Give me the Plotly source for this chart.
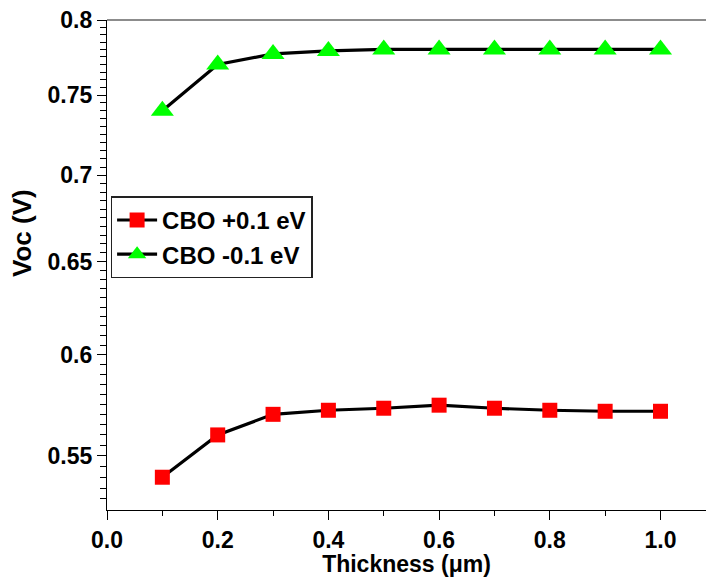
import numpy as np
import plotly.graph_objects as go

# Absorber thickness (um)
thickness = [0.1, 0.2, 0.3, 0.4, 0.5, 0.6, 0.7, 0.8, 0.9, 1.0]

# Open-circuit voltage (V) for the two conduction-band offsets
voc_cbo_pos = [0.540, 0.560, 0.570, 0.572, 0.573, 0.5745, 0.573, 0.572, 0.5715, 0.5715]
voc_cbo_neg = [0.740, 0.770, 0.777, 0.779, 0.780, 0.780, 0.780, 0.780, 0.780, 0.780]

series_names = ["CBO +0.1 eV", "CBO -0.1 eV"]

y_major = [0.55, 0.6, 0.65, 0.7, 0.75, 0.8]
y_major_text = ["0.55", "0.6", "0.65", "0.7", "0.75", "0.8"]
y_minor = [round(v, 3) for v in np.arange(0.53, 0.8, 0.005)
           if all(abs(v - m) > 1e-6 for m in y_major)]

FONT = "Liberation Sans, Arial, sans-serif"

fig = go.Figure()
fig.add_trace(go.Scatter(
    x=thickness, y=voc_cbo_pos, name=series_names[0], mode="lines+markers",
    line=dict(color="black", width=3.2),
    marker=dict(symbol="square", size=15, color="#ff0000"),
))
fig.add_trace(go.Scatter(
    x=thickness, y=voc_cbo_neg, name=series_names[1], mode="lines+markers",
    line=dict(color="black", width=3.2),
    marker=dict(symbol="triangle-up", size=20, color="#00ff00"),
))

W, H = 706, 577
ml, mt, mb = 107, 20, 67
x_per_unit = 553.5
x_max = (W - ml) / x_per_unit

fig.update_layout(
    width=W, height=H,
    margin=dict(l=ml, r=0, t=mt, b=mb),
    plot_bgcolor="white", paper_bgcolor="white",
    font=dict(family=FONT, color="black"),
    showlegend=True,
    legend=dict(
        x=0.006, y=0.64, xanchor="left", yanchor="top",
        bgcolor="white", bordercolor="#222", borderwidth=1.5,
        font=dict(family=FONT, size=24, color="black", weight="bold"),
        tracegroupgap=0, itemwidth=40,
    ),
    shapes=[dict(type="line", xref="paper", yref="paper",
                 x0=0, x1=1, y0=1, y1=1,
                 line=dict(color="#666", width=1.5))],
    annotations=[dict(text="Voc (V)", textangle=-90, showarrow=False,
                      xref="paper", yref="paper", x=0, y=(510 - 233) / 490,
                      xanchor="center", yanchor="middle", xshift=-85,
                      font=dict(family=FONT, size=26, color="black", weight="bold"))],
)

fig.update_xaxes(
    range=[0, x_max], tickmode="linear", tick0=0, dtick=0.2, tickformat=".1f",
    ticks="outside", ticklen=9, tickwidth=1.3, tickcolor="black",
    showline=True, linecolor="black", linewidth=1.3, showgrid=False, zeroline=False,
    minor=dict(tickmode="linear", tick0=0, dtick=0.1, ticks="outside",
               ticklen=5, tickwidth=1.3, tickcolor="black", showgrid=False),
    tickfont=dict(family=FONT, size=23, color="black", weight="bold"),
    title=dict(text="Thickness (\u03bcm)", standoff=0,
               font=dict(family=FONT, size=23, color="black", weight="bold")),
)

fig.update_yaxes(
    type="log", range=[np.log10(0.525), np.log10(0.8)],
    tickmode="array", tickvals=y_major, ticktext=y_major_text,
    ticks="outside", ticklen=9, tickwidth=1.3, tickcolor="black",
    showline=True, linecolor="black", linewidth=1.3, showgrid=False, zeroline=False,
    minor=dict(tickmode="array", tickvals=y_minor, ticks="outside",
               ticklen=6, tickwidth=1.3, tickcolor="black", showgrid=False),
    tickfont=dict(family=FONT, size=23, color="black", weight="bold"),
)

fig.write_html("out.html")
